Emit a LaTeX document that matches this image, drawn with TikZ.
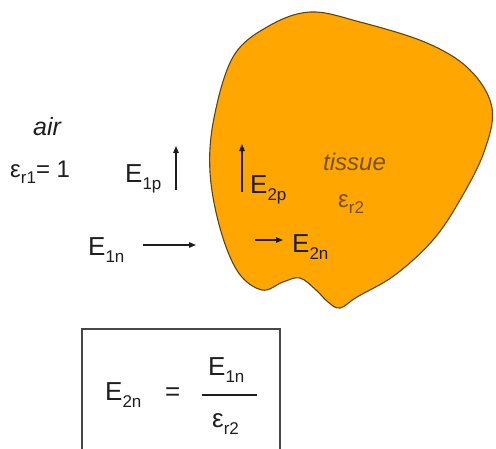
\documentclass[tikz,border=0pt]{standalone}
\usepackage{fontspec}
\setmainfont{Liberation Sans}
\usetikzlibrary{arrows.meta}
\newcommand{\sbs}[1]{\raisebox{-0.28em}{\fontsize{17}{17}\selectfont #1}}
\definecolor{tissuefill}{RGB}{255,166,0}
\definecolor{tissueline}{RGB}{90,68,28}
\definecolor{tissuetext}{RGB}{118,80,20}
\definecolor{inktext}{RGB}{30,30,30}

\begin{document}
\begin{tikzpicture}[x=1pt,y=-1pt,
  lbl/.style={anchor=base west,inner sep=0pt,text=inktext,font=\fontsize{26}{26}\selectfont},
  medium/.style={anchor=base west,inner sep=0pt,text=inktext,font=\fontsize{24}{24}\selectfont},
  vec/.style={-{Triangle[length=7pt,width=5.5pt]},line width=1.2pt,inktext}]
  \useasboundingbox (0,0) rectangle (496,448);
  % tissue region
  \fill[tissuefill,draw=tissueline,line width=1.1pt] plot[smooth cycle,tension=0.6] coordinates {
    (310,12) (360,22) (427,43) (470,70) (492,108) (484,152) (460,200) (433,240)
    (395,275) (357,297) (340,308) (328,302) (316,290) (300,278) (283,282)
    (262,290) (238,272) (220,228) (210,172) (214,118) (233,57) (267,27)};
  % air side
  \node[medium,font=\fontsize{25}{25}\selectfont\itshape] (air) at (33,135) {air};
  \node[medium] (epsone) at (10,177) {ε\sbs{r1}= 1};
  \node[lbl] (eonep) at (125,182) {E\sbs{1p}};
  \coordinate (eonepA) at (176,190);
  \coordinate (eonepB) at (176,146);
  \draw[vec] (eonepA) -- (eonepB);
  \node[lbl] (eonen) at (88,255) {E\sbs{1n}};
  \coordinate (eonenA) at (143,245);
  \coordinate (eonenB) at (196,245);
  \draw[vec] (eonenA) -- (eonenB);
  % tissue side
  \coordinate (etwopA) at (242,192);
  \coordinate (etwopB) at (242,144);
  \draw[vec] (etwopA) -- (etwopB);
  \node[lbl] (etwop) at (250,193) {E\sbs{2p}};
  \node[medium,text=tissuetext,font=\fontsize{24}{24}\selectfont\itshape] (tissue) at (323,170) {tissue};
  \node[medium,text=tissuetext] (epstwo) at (338,207) {ε\sbs{r2}};
  \coordinate (etwonA) at (255,240);
  \coordinate (etwonB) at (283,240);
  \draw[vec] (etwonA) -- (etwonB);
  \node[lbl] (etwon) at (292,252) {E\sbs{2n}};
  % boundary condition, box runs off the bottom
  \draw[black!72,line width=1.3pt] (82,452) -- (82,329) -- (280,329) -- (280,452);
  \node[lbl] (lhs) at (105,400) {E\sbs{2n}};
  \node[lbl] (eq) at (165,400) {=};
  \node[lbl] (num) at (208,375) {E\sbs{1n}};
  \node[lbl] (den) at (212,427) {ε\sbs{r2}};
  \coordinate (barL) at (202,395);
  \coordinate (barR) at (257,395);
  \draw[inktext,line width=1.1pt] (barL) -- (barR);
\end{tikzpicture}
\end{document}
